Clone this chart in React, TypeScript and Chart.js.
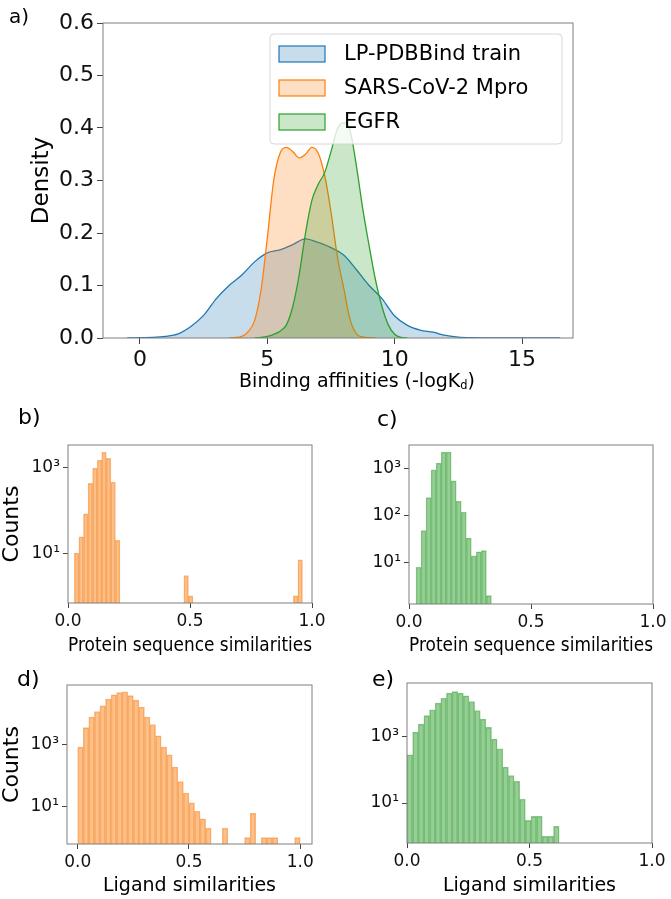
import { useEffect, useRef } from "react";
import Chart from "chart.js/auto";

// ---------- panel a: density of binding affinities ----------
const kdeLabels = ["LP-PDBBind train", "SARS-CoV-2 Mpro", "EGFR"];
const kdeLines = ["#1f77b4", "#ff7f0e", "#2ca02c"];
const kdeFills = ["rgba(31,119,180,0.25)", "rgba(255,127,14,0.25)", "rgba(44,160,44,0.25)"];
const affinityTicks = [0, 5, 10, 15];
const densityTicks = [0, 0.1, 0.2, 0.3, 0.4, 0.5, 0.6];

const trainX = [-0.5, 0, 0.5, 1, 1.5, 2, 2.5, 3, 3.5, 4, 4.5, 5, 5.5, 6, 6.5, 7, 7.5, 8, 8.5, 9, 9.5, 10, 10.5, 11, 11.5, 12, 12.5, 13, 14, 15, 16.5];
const trainY = [0, 0.0005, 0.001, 0.003, 0.008, 0.022, 0.043, 0.075, 0.1, 0.12, 0.145, 0.162, 0.168, 0.178, 0.189, 0.182, 0.172, 0.158, 0.13, 0.1, 0.075, 0.042, 0.024, 0.015, 0.011, 0.005, 0.0015, 0.0005, 0.0002, 0.0001, 0];

const mproX = [3.5, 3.75, 4, 4.25, 4.5, 4.75, 5, 5.25, 5.5, 5.75, 6, 6.25, 6.5, 6.75, 7, 7.25, 7.5, 7.75, 8, 8.25, 8.5, 8.75, 9, 9.25];
const mproY = [0, 0.001, 0.003, 0.012, 0.033, 0.09, 0.19, 0.3, 0.352, 0.363, 0.355, 0.343, 0.35, 0.363, 0.352, 0.31, 0.24, 0.155, 0.095, 0.035, 0.008, 0.002, 0.0005, 0];

const egfrX = [4.5, 4.75, 5, 5.25, 5.5, 5.75, 6, 6.25, 6.5, 6.75, 7, 7.25, 7.5, 7.75, 8, 8.25, 8.5, 8.75, 9, 9.25, 9.5, 9.75, 10, 10.25, 10.5];
const egfrY = [0, 0.001, 0.003, 0.007, 0.013, 0.025, 0.06, 0.12, 0.2, 0.262, 0.293, 0.315, 0.355, 0.398, 0.41, 0.395, 0.327, 0.245, 0.175, 0.11, 0.06, 0.025, 0.007, 0.001, 0];

// ---------- panels b-e: similarity histograms (log counts) ----------
const simTicks = [0, 0.5, 1.0];

const protMproStart = 0.026;
const protMproWidth = 0.0187;
const protMproCounts = [10, 24, 83, 430, 970, 1500, 2300, 1650, 455, 20, 0, 0, 0, 0, 0, 0, 0, 0, 0, 0, 0, 0, 0, 0, 3, 1, 0, 0, 0, 0, 0, 0, 0, 0, 0, 0, 0, 0, 0, 0, 0, 0, 0, 0, 0, 0, 0, 0, 1, 7];

const protEgfrStart = 0.0287;
const protEgfrWidth = 0.0206;
const protEgfrCounts = [8, 48, 240, 920, 1280, 2200, 2200, 540, 200, 117, 33, 14, 17, 18, 2];

const ligMproStart = 0;
const ligMproWidth = 0.025;
const ligMproCounts = [800, 3400, 7400, 11000, 17000, 28000, 38000, 45000, 48000, 36000, 26000, 15500, 7400, 4200, 1850, 800, 455, 183, 63, 27, 13, 7, 4, 2, 0, 0, 2, 0, 0, 0, 1, 6, 0, 1, 1, 1, 0, 0, 0, 1];

const ligEgfrStart = 0;
const ligEgfrWidth = 0.023;
const ligEgfrCounts = [280, 1350, 2350, 4200, 6300, 10000, 14000, 20000, 22000, 20000, 16500, 11000, 5900, 3300, 1870, 830, 420, 120, 66, 45, 13, 3, 4, 4, 1, 1, 2];

const FONT = "'DejaVu Sans'";

const sup: Record<string, string> = { "0": "⁰", "1": "¹", "2": "²", "3": "³", "4": "⁴", "5": "⁵" };
const logLabel = (v: number) =>
  "10" + String(Math.round(Math.log10(v))).split("").map((d) => sup[d]).join("");

const framePlugin = {
  id: "frame",
  afterDraw(chart: any) {
    const { ctx, chartArea: a } = chart;
    ctx.save();
    ctx.strokeStyle = "#7f7f7f";
    ctx.lineWidth = 1;
    ctx.strokeRect(a.left, a.top, a.right - a.left, a.bottom - a.top);
    ctx.restore();
  },
};

const kdeLegendPlugin = {
  id: "kdeLegend",
  afterDraw(chart: any) {
    const { ctx, chartArea: a } = chart;
    const w = 292;
    const h = 110;
    const x0 = a.right - 11 - w;
    const y0 = a.top + 11;
    ctx.save();
    ctx.beginPath();
    ctx.roundRect(x0, y0, w, h, 4);
    ctx.fillStyle = "rgba(255,255,255,0.8)";
    ctx.fill();
    ctx.strokeStyle = "#d6d6d6";
    ctx.lineWidth = 1;
    ctx.stroke();
    ctx.font = `21px ${FONT}`;
    ctx.textBaseline = "middle";
    chart.data.datasets.forEach((ds: any, i: number) => {
      const cy = y0 + 20 + i * 34;
      ctx.fillStyle = "#fff";
      ctx.fillRect(x0 + 9, cy - 8, 46, 16);
      ctx.fillStyle = ds.backgroundColor;
      ctx.fillRect(x0 + 9, cy - 8, 46, 16);
      ctx.strokeStyle = ds.borderColor;
      ctx.lineWidth = 1.2;
      ctx.strokeRect(x0 + 9, cy - 8, 46, 16);
      ctx.fillStyle = "#000";
      ctx.fillText(ds.label, x0 + 74, cy + 1);
    });
    ctx.restore();
  },
};

function kdeConfig(): any {
  const series = [
    { x: trainX, y: trainY },
    { x: mproX, y: mproY },
    { x: egfrX, y: egfrY },
  ];
  return {
    type: "line",
    data: {
      datasets: series.map((s, i) => ({
        label: kdeLabels[i],
        data: s.x.map((x, j) => ({ x, y: s.y[j] })),
        borderColor: kdeLines[i],
        backgroundColor: kdeFills[i],
        borderWidth: 1.3,
        fill: "origin",
        pointRadius: 0,
        cubicInterpolationMode: "monotone",
        order: 2 - i,
      })),
    },
    options: {
      animation: false,
      responsive: true,
      maintainAspectRatio: false,
      layout: { padding: { top: 23, right: 27, left: 0, bottom: 0 } },
      plugins: { legend: { display: false }, tooltip: { enabled: false } },
      scales: {
        x: {
          type: "linear",
          min: -1.45,
          max: 17,
          afterBuildTicks: (s: any) => {
            s.ticks = affinityTicks.map((v) => ({ value: v }));
          },
          afterFit: (s: any) => {
            s.height = 62;
          },
          ticks: { font: { family: FONT, size: 22 }, color: "#111", padding: 3, maxRotation: 0, autoSkip: false },
          grid: { display: true, drawOnChartArea: false, tickLength: 6, tickColor: "#444" },
          border: { display: false },
        },
        y: {
          type: "linear",
          min: 0,
          max: 0.6,
          afterBuildTicks: (s: any) => {
            s.ticks = densityTicks.map((v) => ({ value: v }));
          },
          afterFit: (s: any) => {
            s.width = 103;
          },
          ticks: {
            font: { family: FONT, size: 22 },
            color: "#111",
            padding: 3,
            callback: (v: any) => Number(v).toFixed(1),
          },
          grid: { display: true, drawOnChartArea: false, tickLength: 6, tickColor: "#444" },
          border: { display: false },
          title: {
            display: true,
            text: "Density",
            color: "#000",
            font: { family: FONT, size: 23, lineHeight: 1 },
            padding: { top: 31, bottom: 0 },
          },
        },
      },
    },
    plugins: [framePlugin, kdeLegendPlugin],
  };
}

type Hist = {
  start: number;
  width: number;
  counts: number[];
  fill: string;
  edge: string;
  yMin: number;
  yMax: number;
  yTicks: number[];
  xMin: number;
  xMax: number;
  xTitle: string;
  yTitle?: string;
  area: { left: number; top: number; right: number; bottom: number };
  canvasH: number;
  canvasW: number;
  titlePad: number;
};

function histConfig(h: Hist): any {
  const points = h.counts.map((c, i) => ({
    x: h.start + (i + 0.5) * h.width,
    y: c > 0 ? c : null,
  }));
  return {
    type: "bar",
    data: {
      datasets: [
        {
          data: points,
          backgroundColor: h.fill,
          borderColor: h.edge,
          borderWidth: 0.8,
          barPercentage: 1,
          categoryPercentage: 1,
        },
      ],
    },
    options: {
      animation: false,
      responsive: true,
      maintainAspectRatio: false,
      layout: { padding: { top: h.area.top, right: h.canvasW - h.area.right, left: 0, bottom: 0 } },
      plugins: { legend: { display: false }, tooltip: { enabled: false } },
      scales: {
        x: {
          type: "linear",
          min: h.xMin,
          max: h.xMax,
          offset: false,
          afterBuildTicks: (s: any) => {
            s.ticks = simTicks.map((v) => ({ value: v }));
          },
          afterFit: (s: any) => {
            s.height = h.canvasH - h.area.bottom;
          },
          ticks: {
            font: { family: FONT, size: 17 },
            color: "#111",
            padding: 3,
            maxRotation: 0,
            autoSkip: false,
            callback: (v: any) => Number(v).toFixed(1),
          },
          grid: { display: true, offset: false, drawOnChartArea: false, tickLength: 5, tickColor: "#444" },
          border: { display: false },
          title: {
            display: true,
            text: h.xTitle,
            color: "#000",
            font: { family: FONT, size: 19, lineHeight: 1 },
            padding: { top: 0, bottom: h.titlePad },
          },
        },
        y: {
          type: "logarithmic",
          min: h.yMin,
          max: h.yMax,
          bounds: "data",
          afterBuildTicks: (s: any) => {
            s.ticks = h.yTicks.map((v) => ({ value: v }));
          },
          afterFit: (s: any) => {
            s.width = h.area.left;
          },
          ticks: {
            font: { family: FONT, size: 17 },
            color: "#111",
            padding: 3,
            autoSkip: false,
            callback: (v: any) => logLabel(Number(v)),
          },
          grid: { display: true, drawOnChartArea: false, tickLength: 5, tickColor: "#444" },
          border: { display: false },
          title: {
            display: !!h.yTitle,
            text: h.yTitle || "",
            color: "#000",
            font: { family: FONT, size: 22, lineHeight: 1 },
            padding: { top: 1, bottom: 0 },
          },
        },
      },
    },
    plugins: [framePlugin],
  };
}

const ORANGE_FILL = "rgba(255,127,14,0.5)";
const ORANGE_EDGE = "rgba(230,110,5,0.45)";
const GREEN_FILL = "rgba(44,160,44,0.5)";
const GREEN_EDGE = "rgba(30,140,30,0.45)";

const panelB: Hist = {
  start: protMproStart, width: protMproWidth, counts: protMproCounts,
  fill: ORANGE_FILL, edge: ORANGE_EDGE,
  yMin: 0.68, yMax: 3400, yTicks: [10, 1000], xMin: 0, xMax: 1,
  xTitle: "Protein sequence similarities", yTitle: "Counts",
  area: { left: 68, top: 45, right: 312, bottom: 203 }, canvasW: 330, canvasH: 260, titlePad: 4.5,
};
const panelC: Hist = {
  start: protEgfrStart, width: protEgfrWidth, counts: protEgfrCounts,
  fill: GREEN_FILL, edge: GREEN_EDGE,
  yMin: 1.33, yMax: 3100, yTicks: [10, 100, 1000], xMin: 0, xMax: 1,
  xTitle: "Protein sequence similarities",
  area: { left: 79, top: 45, right: 323, bottom: 204 }, canvasW: 341, canvasH: 260, titlePad: 4,
};
const panelD: Hist = {
  start: ligMproStart, width: ligMproWidth, counts: ligMproCounts,
  fill: ORANGE_FILL, edge: ORANGE_EDGE,
  yMin: 0.62, yMax: 79000, yTicks: [10, 1000], xMin: -0.048, xMax: 1.053,
  xTitle: "Ligand similarities", yTitle: "Counts",
  area: { left: 67, top: 25, right: 312, bottom: 184 }, canvasW: 330, canvasH: 239, titlePad: 3,
};
const panelE: Hist = {
  start: ligEgfrStart, width: ligEgfrWidth, counts: ligEgfrCounts,
  fill: GREEN_FILL, edge: GREEN_EDGE,
  yMin: 0.63, yMax: 40000, yTicks: [10, 1000], xMin: 0, xMax: 1,
  xTitle: "Ligand similarities",
  area: { left: 77, top: 23, right: 322, bottom: 183 }, canvasW: 341, canvasH: 239, titlePad: 3,
};

function ChartBox({ left, top, width, height, build }: { left: number; top: number; width: number; height: number; build: () => any }) {
  const canvasRef = useRef<HTMLCanvasElement>(null);
  useEffect(() => {
    if (!canvasRef.current) return;
    const chart = new Chart(canvasRef.current, build());
    return () => chart.destroy();
  }, []);
  return (
    <div style={{ position: "absolute", left, top, width, height }}>
      <canvas ref={canvasRef} />
    </div>
  );
}

const labelStyle = (left: number, top: number, size: number): React.CSSProperties => ({
  position: "absolute",
  left,
  top,
  fontFamily: FONT,
  fontSize: size,
  lineHeight: 1,
  color: "#000",
  whiteSpace: "nowrap",
});

export default function App() {
  return (
    <div style={{ position: "absolute", left: 0, top: 0, width: 671, height: 899, background: "#fff", overflow: "hidden" }}>
      <ChartBox left={0} top={0} width={600} height={400} build={kdeConfig} />
      <ChartBox left={0} top={400} width={330} height={260} build={() => histConfig(panelB)} />
      <ChartBox left={330} top={400} width={341} height={260} build={() => histConfig(panelC)} />
      <ChartBox left={0} top={660} width={330} height={239} build={() => histConfig(panelD)} />
      <ChartBox left={330} top={660} width={341} height={239} build={() => histConfig(panelE)} />

      <div style={{ ...labelStyle(357, 371, 19), transform: "translateX(-50%)" }}>
        Binding affinities (-logK<sub style={{ fontSize: "0.6em", verticalAlign: "-0.2em" }}>d</sub>)
      </div>

      <div style={labelStyle(9, 6, 20)}>a)</div>
      <div style={labelStyle(18, 406, 22)}>b)</div>
      <div style={labelStyle(377, 408, 22)}>c)</div>
      <div style={labelStyle(17, 668, 22)}>d)</div>
      <div style={labelStyle(372, 668, 22)}>e)</div>
    </div>
  );
}
